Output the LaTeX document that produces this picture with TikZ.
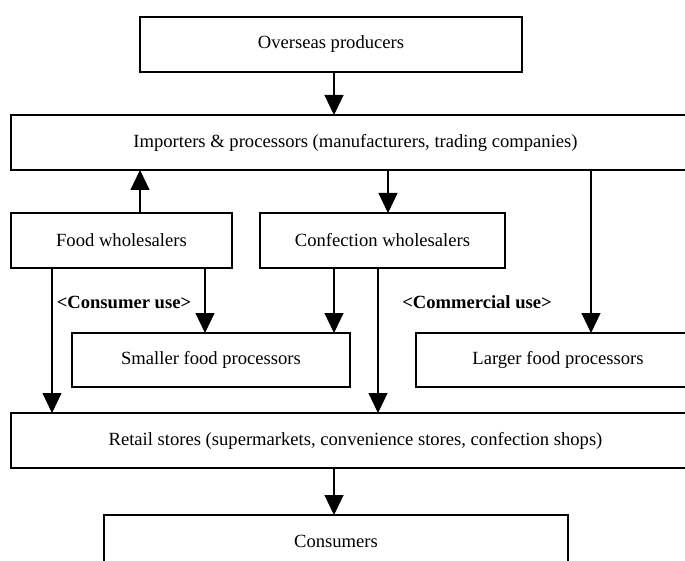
\documentclass[tikz,border=0pt]{standalone}
\usepackage{fontspec}
\setmainfont{Liberation Serif}
\usetikzlibrary{arrows.meta}
\begin{document}
\begin{tikzpicture}[x=1pt,y=-1pt,
  box/.style={draw,line width=1.2pt,rectangle,inner sep=0pt,outer sep=0pt,
    font=\fontsize{18.6}{22}\selectfont},
  arr/.style={line width=1.2pt,-{Triangle[width=19pt,length=20pt]}},
  lbl/.style={font=\fontsize{18.6}{22}\selectfont\bfseries,inner sep=0pt}]
\useasboundingbox (0,0) rectangle (685,561);
\clip (0,0) rectangle (685,561);
\node[box,minimum width=382pt,minimum height=55pt] (over) at (331,44.5) {Overseas producers};
\node[box,minimum width=689pt,minimum height=55pt] (imp) at (355.5,142.5) {Importers \& processors (manufacturers, trading companies)};
\node[box,minimum width=221pt,minimum height=55pt] (food) at (121.5,240.5) {Food wholesalers};
\node[box,minimum width=245pt,minimum height=55pt] (conf) at (382.5,240.5) {Confection wholesalers};
\node[box,minimum width=278pt,minimum height=54pt] (small) at (211,360) {Smaller food processors};
\node[box,minimum width=284pt,minimum height=54pt] (large) at (558,360) {Larger food processors};
\node[box,minimum width=689pt,minimum height=55pt] (retail) at (355.5,440.5) {Retail stores (supermarkets, convenience stores, confection shops)};
\node[box,minimum width=464pt,minimum height=52pt] (cons) at (336,541) {Consumers};
\node[lbl] (lcu) at (124,302) {<Consumer use>};
\node[lbl] (lco) at (477,302) {<Commercial use>};
\coordinate (xa) at (334,0);
\coordinate (xb) at (140,0);
\coordinate (xc) at (388,0);
\coordinate (xd) at (591,0);
\coordinate (xe) at (52,0);
\coordinate (xf) at (205,0);
\coordinate (xg) at (378,0);
\draw[arr] (over.south -| xa) -- (imp.north -| xa);
\draw[arr] (food.north -| xb) -- (imp.south -| xb);
\draw[arr] (imp.south -| xc) -- (conf.north -| xc);
\draw[arr] (imp.south -| xd) -- (large.north -| xd);
\draw[arr] (food.south -| xe) -- (retail.north -| xe);
\draw[arr] (food.south -| xf) -- (small.north -| xf);
\draw[arr] (conf.south -| xa) -- (small.north -| xa);
\draw[arr] (conf.south -| xg) -- (retail.north -| xg);
\draw[arr] (retail.south -| xa) -- (cons.north -| xa);
\end{tikzpicture}
\end{document}
